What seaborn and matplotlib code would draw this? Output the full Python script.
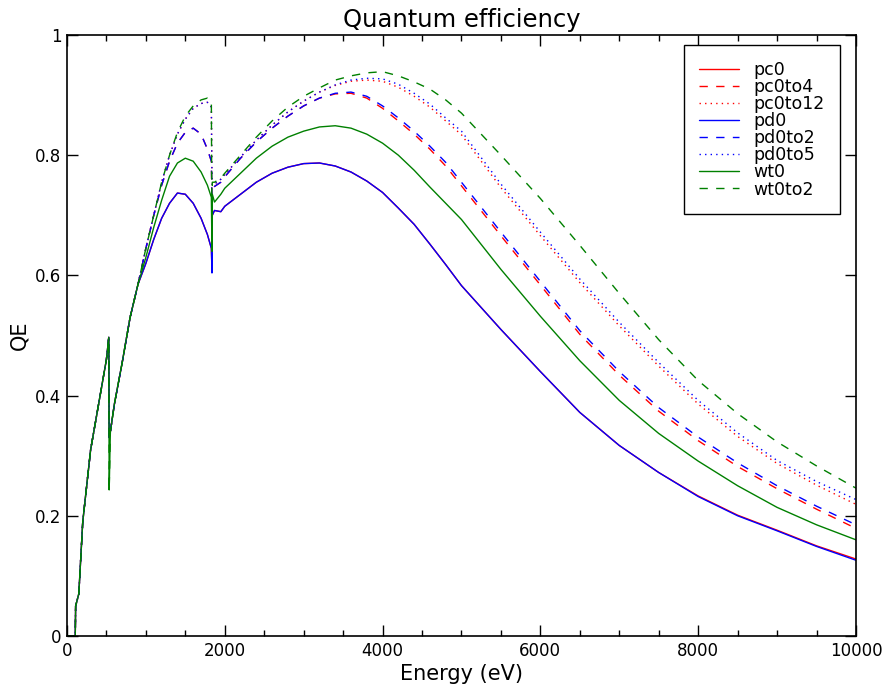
import numpy as np
import pandas as pd
import matplotlib
matplotlib.use("Agg")
import matplotlib.pyplot as plt
from matplotlib.ticker import MultipleLocator, FuncFormatter
import seaborn as sns

# energy grid (eV) at which the curves were read
energy = [0, 105, 110, 150, 200, 300, 400, 500, 530, 535, 550, 600, 700, 800, 900,
          1000, 1100, 1200, 1300, 1400, 1500, 1600, 1700, 1780, 1830, 1838, 1842, 1870, 1950,
          2000, 2200, 2400, 2600, 2800, 3000, 3200, 3400, 3600, 3800, 4000, 4200, 4400,
          4600, 4800, 5000, 5500, 6000, 6500, 7000, 7500, 8000, 8500, 9000, 9500, 10000]

# shared low-energy part (0 - 900 eV)
low = [0, 0, 0.05, 0.07, 0.19, 0.31, 0.385, 0.46, 0.497, 0.33, 0.34, 0.385, 0.455, 0.53, 0.585]
low_wt = [0, 0, 0.05, 0.07, 0.19, 0.31, 0.385, 0.46, 0.497, 0.243, 0.34, 0.385, 0.455, 0.53, 0.585]

pd0 = low + [0.62, 0.66, 0.695, 0.72, 0.737, 0.735, 0.72, 0.695, 0.668, 0.645, 0.604, 0.70, 0.708, 0.706,
             0.715, 0.735, 0.755, 0.77, 0.78, 0.786, 0.787, 0.782, 0.772, 0.757, 0.738, 0.712, 0.685,
             0.652, 0.618, 0.583, 0.51, 0.44, 0.372, 0.317, 0.272, 0.232, 0.2, 0.175, 0.149, 0.126]
pc0 = low + [0.62, 0.66, 0.695, 0.72, 0.737, 0.735, 0.72, 0.695, 0.668, 0.645, 0.61, 0.70, 0.708, 0.706,
             0.715, 0.735, 0.755, 0.77, 0.78, 0.786, 0.787, 0.782, 0.772, 0.757, 0.738, 0.712, 0.685,
             0.652, 0.618, 0.583, 0.51, 0.44, 0.372, 0.317, 0.272, 0.233, 0.201, 0.176, 0.150, 0.128]

pd0to2 = low + [0.645, 0.70, 0.75, 0.79, 0.82, 0.838, 0.845, 0.835, 0.81, 0.79, 0.72, 0.745, 0.748, 0.755,
                0.764, 0.795, 0.822, 0.845, 0.865, 0.882, 0.895, 0.903, 0.905, 0.898, 0.882, 0.862, 0.84,
                0.815, 0.788, 0.755, 0.672, 0.59, 0.508, 0.44, 0.38, 0.331, 0.288, 0.25, 0.216, 0.185]
pc0to4 = low + [0.645, 0.70, 0.75, 0.79, 0.82, 0.838, 0.845, 0.835, 0.81, 0.79, 0.72, 0.745, 0.748, 0.755,
                0.764, 0.795, 0.822, 0.845, 0.865, 0.882, 0.895, 0.902, 0.903, 0.895, 0.878, 0.857, 0.835,
                0.81, 0.782, 0.749, 0.666, 0.584, 0.502, 0.434, 0.374, 0.325, 0.282, 0.245, 0.211, 0.179]

pd0to5 = low + [0.645, 0.70, 0.755, 0.80, 0.835, 0.86, 0.878, 0.886, 0.888, 0.88, 0.76, 0.75, 0.752, 0.76,
                0.768, 0.797, 0.825, 0.85, 0.872, 0.89, 0.905, 0.917, 0.925, 0.928, 0.927, 0.918, 0.903,
                0.885, 0.862, 0.84, 0.752, 0.672, 0.594, 0.522, 0.455, 0.392, 0.338, 0.292, 0.257, 0.227]
pc0to12 = low + [0.645, 0.70, 0.755, 0.80, 0.835, 0.86, 0.878, 0.886, 0.888, 0.88, 0.76, 0.75, 0.752, 0.76,
                 0.768, 0.797, 0.825, 0.85, 0.872, 0.89, 0.905, 0.916, 0.923, 0.925, 0.923, 0.913, 0.898,
                 0.88, 0.857, 0.834, 0.746, 0.666, 0.588, 0.516, 0.449, 0.386, 0.332, 0.287, 0.251, 0.219]

wt0 = low_wt + [0.63, 0.68, 0.725, 0.765, 0.787, 0.795, 0.79, 0.772, 0.75, 0.73, 0.64, 0.735, 0.722, 0.735,
                0.745, 0.77, 0.795, 0.815, 0.83, 0.84, 0.847, 0.849, 0.845, 0.835, 0.82, 0.80, 0.775,
                0.747, 0.72, 0.693, 0.61, 0.532, 0.458, 0.392, 0.337, 0.291, 0.25, 0.214, 0.185, 0.16]
wt0to2 = low_wt + [0.645, 0.70, 0.755, 0.80, 0.838, 0.865, 0.882, 0.892, 0.895, 0.89, 0.65, 0.755, 0.755, 0.762,
                   0.77, 0.80, 0.83, 0.857, 0.88, 0.898, 0.912, 0.925, 0.932, 0.937, 0.939, 0.932, 0.922,
                   0.91, 0.892, 0.87, 0.80, 0.728, 0.65, 0.57, 0.493, 0.425, 0.37, 0.323, 0.283, 0.246]

runs = ["pc0", "pc0to4", "pc0to12", "pd0", "pd0to2", "pd0to5", "wt0", "wt0to2"]
series = [pc0, pc0to4, pc0to12, pd0, pd0to2, pd0to5, wt0, wt0to2]
colors = ["red", "red", "red", "blue", "blue", "blue", "green", "green"]
dashes = ["", (6, 6), (1, 3), "", (6, 6), (1, 3), "", (6, 6)]

frames = []
for name, vals in zip(runs, series):
    frames.append(pd.DataFrame({"Energy": energy, "QE": vals, "run": name}))
df = pd.concat(frames, ignore_index=True)

sns.set_theme(style="ticks", rc={"text.color": "black", "axes.labelcolor": "black",
                                 "axes.edgecolor": "black", "xtick.color": "black",
                                 "ytick.color": "black"})
plt.rcParams["font.family"] = ["DejaVu Sans"]

fig = plt.figure(figsize=(8.87, 6.93), dpi=100)
ax = fig.add_axes([0.0755, 0.0823, 0.8895, 0.8672])

sns.lineplot(data=df, x="Energy", y="QE", hue="run", style="run",
             palette=dict(zip(runs, colors)), dashes=dict(zip(runs, dashes)),
             hue_order=runs, style_order=runs, linewidth=1, ax=ax, sort=False)

ax.set_xlim(0, 10000)
ax.set_ylim(0, 1)
ax.xaxis.set_major_locator(MultipleLocator(2000))
ax.xaxis.set_minor_locator(MultipleLocator(500))
ax.yaxis.set_major_locator(MultipleLocator(0.2))
ax.yaxis.set_major_formatter(FuncFormatter(lambda v, p: "%g" % round(v, 2)))
ax.tick_params(which="both", direction="in", top=True, right=True, labelsize=12, pad=4)
ax.tick_params(which="major", length=8, width=1)
ax.tick_params(which="minor", length=4, width=1)
for s in ax.spines.values():
    s.set_linewidth(1.2)

ax.set_title("Quantum efficiency", fontsize=17.5, pad=6)
ax.set_xlabel("Energy (eV)", fontsize=15, labelpad=3)
ax.set_ylabel("QE", fontsize=15)

leg = ax.legend(loc="upper right", bbox_to_anchor=(0.9797, 0.9834), borderaxespad=0,
                fontsize=12.5, frameon=True, fancybox=False,
                edgecolor="black", framealpha=1, labelspacing=-0.05,
                handlelength=2.3, handletextpad=0.8, borderpad=0.9)
leg.get_frame().set_linewidth(1)

fig.savefig("out.png", dpi=100)
